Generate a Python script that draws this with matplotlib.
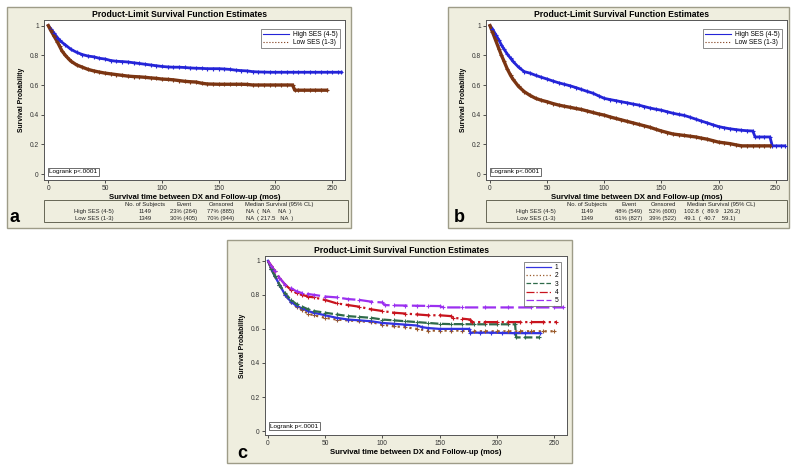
import matplotlib
matplotlib.use("Agg")
import matplotlib.pyplot as plt
from matplotlib.patches import Rectangle
from matplotlib.lines import Line2D

# ---- data (time in months, survival probability) ----
# panel a
a_high_t = [0, 2, 5, 8, 10, 15, 20, 25, 30, 35, 40, 45, 50, 55, 60, 65, 70, 75, 80, 85, 90, 95, 100,
            105, 110, 115, 120, 125, 130, 135, 140, 145, 150, 155, 160, 165, 170, 175, 180, 185, 190,
            195, 200, 205, 210, 215, 220, 225, 230, 235, 240, 245, 250, 255, 258]
a_high_s = [1.0, 0.98, 0.95, 0.92, 0.90, 0.87, 0.84, 0.82, 0.805, 0.795, 0.79, 0.78, 0.775, 0.765, 0.76,
            0.758, 0.755, 0.75, 0.745, 0.74, 0.735, 0.73, 0.725, 0.722, 0.72, 0.72, 0.718, 0.715, 0.713,
            0.712, 0.71, 0.71, 0.71, 0.708, 0.705, 0.70, 0.697, 0.695, 0.69, 0.688, 0.687, 0.686, 0.686,
            0.686, 0.686, 0.686, 0.686, 0.686, 0.686, 0.686, 0.686, 0.686, 0.686, 0.686, 0.686]
a_low_t = [0, 2, 5, 8, 10, 12, 15, 18, 20, 25, 30, 35, 40, 45, 50, 55, 60, 65, 70, 75, 80, 85, 90, 95,
           100, 105, 110, 115, 120, 125, 130, 135, 140, 145, 150, 155, 160, 165, 170, 175, 180, 185,
           190, 195, 200, 205, 210, 215, 217, 220, 225, 230, 235, 240, 245]
a_low_s = [1.0, 0.97, 0.93, 0.89, 0.86, 0.83, 0.80, 0.775, 0.76, 0.735, 0.72, 0.705, 0.695, 0.687, 0.68,
           0.675, 0.67, 0.665, 0.66, 0.657, 0.655, 0.652, 0.648, 0.645, 0.64, 0.638, 0.635, 0.63, 0.625,
           0.622, 0.62, 0.612, 0.607, 0.606, 0.605, 0.605, 0.605, 0.605, 0.605, 0.604, 0.60, 0.60, 0.60,
           0.60, 0.60, 0.60, 0.60, 0.60, 0.565, 0.565, 0.565, 0.565, 0.565, 0.565, 0.565]

# panel b
b_high_t = [0, 2, 5, 8, 10, 12, 15, 18, 20, 25, 30, 35, 40, 45, 50, 55, 60, 65, 70, 75, 80, 85, 90, 95,
            100, 105, 110, 115, 120, 125, 130, 135, 140, 145, 150, 155, 160, 165, 170, 175, 180, 185,
            190, 195, 200, 205, 210, 215, 220, 225, 230, 232, 235, 240, 245, 247, 250, 255, 258]
b_high_s = [1.0, 0.98, 0.94, 0.90, 0.87, 0.845, 0.81, 0.78, 0.76, 0.72, 0.69, 0.68, 0.665, 0.652, 0.64,
            0.627, 0.615, 0.605, 0.595, 0.583, 0.57, 0.557, 0.545, 0.527, 0.51, 0.502, 0.495, 0.487, 0.48,
            0.472, 0.465, 0.455, 0.445, 0.437, 0.43, 0.42, 0.41, 0.402, 0.395, 0.383, 0.37, 0.357, 0.345,
            0.332, 0.32, 0.312, 0.305, 0.30, 0.295, 0.292, 0.29, 0.25, 0.25, 0.25, 0.25, 0.19, 0.19,
            0.19, 0.19]
b_low_t = [0, 2, 5, 8, 10, 12, 15, 18, 20, 25, 30, 35, 40, 45, 50, 55, 60, 65, 70, 75, 80, 85, 90, 95,
           100, 105, 110, 115, 120, 125, 130, 135, 140, 145, 150, 155, 160, 165, 170, 175, 180, 185,
           190, 195, 200, 205, 210, 215, 220, 225, 230, 235, 240, 245]
b_low_s = [1.0, 0.96, 0.90, 0.84, 0.80, 0.765, 0.71, 0.665, 0.64, 0.59, 0.555, 0.53, 0.51, 0.497, 0.487,
           0.475, 0.465, 0.457, 0.45, 0.442, 0.435, 0.425, 0.415, 0.405, 0.397, 0.385, 0.375, 0.365,
           0.355, 0.345, 0.335, 0.325, 0.315, 0.302, 0.29, 0.28, 0.27, 0.265, 0.26, 0.255, 0.25, 0.242,
           0.235, 0.225, 0.215, 0.21, 0.205, 0.197, 0.19, 0.19, 0.19, 0.19, 0.19, 0.19]

# panel c (SES quintiles 1..5)
c_t1 = [0, 3, 6, 10, 15, 20, 25, 30, 35, 40, 50, 60, 70, 80, 90, 100, 110, 120, 130, 135, 140, 150,
        160, 170, 176, 177, 185, 195, 205, 215, 225, 238]
c_s1 = [1.0, 0.95, 0.91, 0.86, 0.80, 0.76, 0.735, 0.72, 0.705, 0.695, 0.68, 0.665, 0.655, 0.65, 0.645,
        0.635, 0.63, 0.625, 0.62, 0.61, 0.605, 0.60, 0.60, 0.60, 0.60, 0.578, 0.578, 0.578, 0.576,
        0.575, 0.575, 0.575]
c_t2 = [0, 3, 6, 10, 15, 20, 25, 30, 35, 40, 50, 60, 70, 80, 90, 100, 110, 120, 130, 140, 150, 160,
        170, 180, 190, 200, 210, 220, 230, 240, 250]
c_s2 = [1.0, 0.95, 0.91, 0.86, 0.80, 0.755, 0.73, 0.71, 0.69, 0.68, 0.665, 0.655, 0.65, 0.645, 0.64,
        0.625, 0.615, 0.61, 0.60, 0.59, 0.59, 0.59, 0.59, 0.586, 0.586, 0.586, 0.586, 0.586, 0.586,
        0.586, 0.586]
c_t3 = [0, 3, 6, 10, 15, 20, 25, 30, 35, 40, 50, 60, 70, 80, 90, 100, 110, 120, 130, 140, 150, 160,
        170, 180, 190, 200, 210, 216, 217, 225, 237]
c_s3 = [1.0, 0.95, 0.91, 0.86, 0.81, 0.77, 0.745, 0.73, 0.715, 0.705, 0.695, 0.685, 0.675, 0.67,
        0.665, 0.655, 0.65, 0.645, 0.64, 0.635, 0.63, 0.628, 0.628, 0.627, 0.627, 0.627, 0.627, 0.627,
        0.55, 0.55, 0.55]
c_t4 = [0, 3, 6, 10, 15, 20, 25, 30, 35, 40, 50, 60, 70, 80, 90, 100, 110, 120, 130, 140, 150, 160,
        162, 170, 177, 178, 190, 200, 210, 220, 230, 240, 252]
c_s4 = [1.0, 0.97, 0.94, 0.90, 0.86, 0.83, 0.81, 0.80, 0.79, 0.785, 0.77, 0.75, 0.74, 0.73, 0.715,
        0.705, 0.695, 0.69, 0.685, 0.68, 0.68, 0.675, 0.665, 0.66, 0.655, 0.64, 0.64, 0.64, 0.64, 0.64,
        0.64, 0.64, 0.64]
c_t5 = [0, 3, 6, 10, 15, 20, 25, 30, 35, 40, 50, 60, 70, 80, 90, 100, 102, 110, 120, 130, 140, 150,
        153, 170, 190, 210, 230, 250, 258]
c_s5 = [1.0, 0.97, 0.94, 0.90, 0.86, 0.84, 0.82, 0.81, 0.805, 0.80, 0.79, 0.785, 0.775, 0.77, 0.76,
        0.755, 0.74, 0.738, 0.737, 0.736, 0.735, 0.734, 0.726, 0.726, 0.726, 0.726, 0.726, 0.726, 0.726]

ses_labels = ["High SES (4-5)", "Low SES (1-3)"]
quint_labels = ["1", "2", "3", "4", "5"]

tbl_head = ["No. of Subjects", "Event", "Censored", "Median Survival (95% CL)"]
tbl_a = [["1149", "23% (264)", "77% (885)", "NA  (  NA     NA  )"],
         ["1349", "30% (405)", "70% (944)", "NA  ( 217.5   NA  )"]]
tbl_b = [["1149", "48% (549)", "52% (600)", "102.8  (  89.9   126.2)"],
         ["1349", "61% (827)", "39% (522)", "49.1  (  40.7    59.1)"]]

blue = "#2424D8"
brown = "#7B3512"
c_colors = ["#3333E0", "#9A5A2A", "#2F6B4A", "#C8141E", "#9B30F0"]
c_styles = ["-", ":", "--", "-.", (0, (6, 2))]
beige = "#EFEEDF"
frame = "#9E9C88"

plt.rcParams["font.family"] = ["Liberation Sans", "DejaVu Sans"]

W, H = 800, 470
fig = plt.figure(figsize=(8, 4.7), dpi=100)
fig.patch.set_facecolor("white")


def fx(x):
    return x / W


def fy(y):
    return 1 - y / H


def panel_bg(x0, y0, x1, y1):
    fig.patches.append(Rectangle((fx(x0), fy(y1)), fx(x1 - x0), (y1 - y0) / H,
                                 transform=fig.transFigure, facecolor=beige,
                                 edgecolor=frame, lw=1.0, zorder=-2))


def make_ax(x0, y0, x1, y1, xlim, ylim, title_x):
    ax = fig.add_axes([fx(x0), fy(y1), fx(x1 - x0), (y1 - y0) / H])
    ax.set_zorder(2)
    ax.set_facecolor("white")
    ax.set_xlim(*xlim)
    ax.set_ylim(*ylim)
    ax.set_xticks([0, 50, 100, 150, 200, 250])
    ax.set_yticks([0, 0.2, 0.4, 0.6, 0.8, 1])
    ax.set_yticklabels(["0", "0.2", "0.4", "0.6", "0.8", "1"])
    ax.tick_params(labelsize=4.8, length=2.5, width=0.6, pad=1.2, colors="#333333")
    for s in ax.spines.values():
        s.set_linewidth(0.7)
        s.set_color("#555555")
    # title is centred over the whole panel, not just the plot area
    fig.text(fx(title_x), fy(y0 - 5.5), "Product-Limit Survival Function Estimates",
             fontsize=6.2, fontweight="bold", ha="center", va="center")
    ax.set_xlabel("Survival time between DX and Follow-up (mos)", fontsize=5.6,
                  fontweight="bold", labelpad=1.5)
    ax.set_ylabel("Survival Probability", fontsize=4.9, fontweight="bold", labelpad=3)
    ax.text(0.017, 0.035, "Logrank p<.0001", transform=ax.transAxes, fontsize=4.6,
            ha="left", va="bottom",
            bbox=dict(boxstyle="square,pad=0.25", fc="white", ec="#555555", lw=0.6))
    return ax


def km(ax, t, s, color, ls="-", lw=2.0, ms=3.5):
    ax.plot(t, s, color=color, ls=ls, lw=lw, zorder=3)
    ax.plot(t[1:], s[1:], ls="none", marker="+", color=color, ms=ms, mew=0.8, zorder=4)


def draw_table(x0, x1, lab_x, cx, med_x, rows):
    fig.patches.append(Rectangle((fx(x0), fy(222)), fx(x1 - x0), 21.5 / H,
                                 transform=fig.transFigure, facecolor=beige,
                                 edgecolor="#666655", lw=0.7, zorder=-1))
    fs = 4.2
    for j, h in enumerate(tbl_head):
        fig.text(fx(cx[j]), fy(204.8), h, fontsize=fs, ha="center", va="center", color="#222222")
    for i, r in enumerate(rows):
        y = fy(211.8 + 6.9 * i)
        fig.text(fx(lab_x), y, ses_labels[i], fontsize=fs, ha="center", va="center", color="#222222")
        for j, v in enumerate(r[:3]):
            fig.text(fx(cx[j]), y, v, fontsize=fs, ha="center", va="center", color="#222222")
        fig.text(fx(med_x), y, r[3], fontsize=fs, ha="left", va="center", color="#222222")


def legend(ax, handles, labels, anchor, hl):
    leg = ax.legend(handles, labels, loc="upper right", fontsize=4.8, frameon=True,
                    fancybox=False, edgecolor="#555555", handlelength=hl, borderpad=0.3,
                    labelspacing=0.2, handletextpad=0.6, bbox_to_anchor=anchor)
    leg.get_frame().set_linewidth(0.6)


# ---- panel a ----
panel_bg(7, 7, 351, 228)
ax = make_ax(44, 20, 345, 180, (-3.8, 261.2), (-0.040, 1.038), 180)
km(ax, a_high_t, a_high_s, blue)
km(ax, a_low_t, a_low_s, brown, lw=2.4)
h = [Line2D([], [], color=blue, lw=0.8), Line2D([], [], color=brown, lw=0.8, ls=":")]
legend(ax, h, ses_labels, (0.993, 0.965), 3.8)
draw_table(44, 348, 94, [145, 184, 221, 279], 246, tbl_a)
fig.text(fx(15), fy(218), "a", fontsize=13, fontweight="bold", ha="center", va="center")

# ---- panel b ----
panel_bg(448, 7, 789, 228)
ax = make_ax(486, 20, 787, 180, (-3.5, 259.9), (-0.040, 1.038), 621)
km(ax, b_high_t, b_high_s, blue)
km(ax, b_low_t, b_low_s, brown, lw=2.4)
h = [Line2D([], [], color=blue, lw=0.8), Line2D([], [], color=brown, lw=0.8, ls=":")]
legend(ax, h, ses_labels, (0.993, 0.965), 3.8)
draw_table(486, 787, 536, [587, 629, 663, 721], 684, tbl_b)
fig.text(fx(459), fy(217), "b", fontsize=13, fontweight="bold", ha="center", va="center")

# ---- panel c ----
panel_bg(227, 240, 572, 463)
ax = make_ax(265, 256, 567, 435, (-2.6, 261.4), (-0.023, 1.028), 401)
c_t = [c_t1, c_t2, c_t3, c_t4, c_t5]
c_s = [c_s1, c_s2, c_s3, c_s4, c_s5]
for k in [1, 0, 2, 3, 4]:
    km(ax, c_t[k], c_s[k], c_colors[k], ls=c_styles[k], lw=1.6, ms=3.2)
h = [Line2D([], [], color=c_colors[k], lw=0.9, ls=c_styles[k]) for k in range(5)]
legend(ax, h, quint_labels, (0.99, 0.985), 3.8)
fig.text(fx(242), fy(453), "c", fontsize=13, fontweight="bold", ha="center", va="center")

fig.savefig("out.png", dpi=100)
